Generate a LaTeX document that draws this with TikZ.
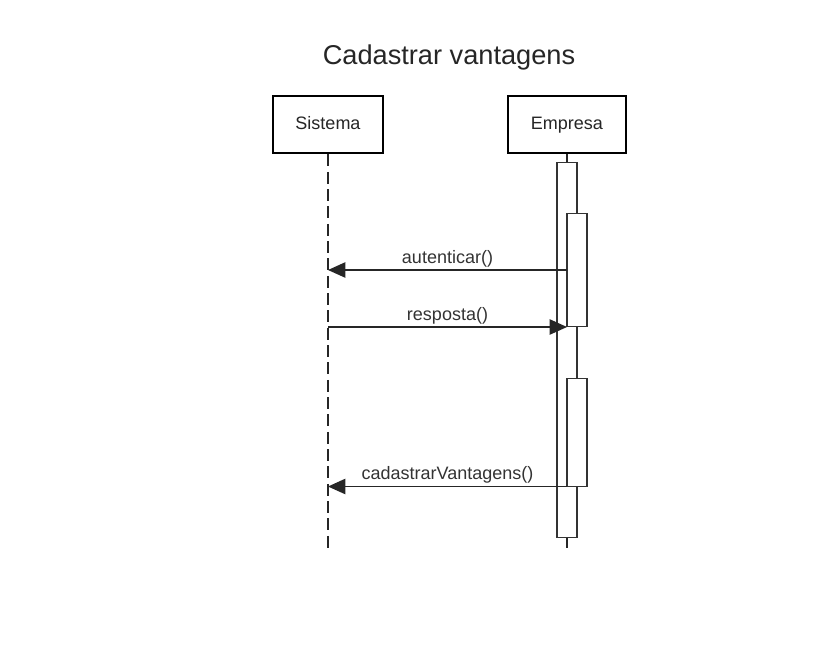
\documentclass[tikz,border=0pt]{standalone}
\usepackage{fontspec}
\setmainfont{Liberation Sans}
\usetikzlibrary{arrows.meta}
\begin{document}
\begin{tikzpicture}[x=0.75pt,y=-0.75pt,
  actor/.style={draw=black,line width=2.2pt,fill=white,minimum width=82.5pt,minimum height=42.75pt,inner sep=0pt,text height=9.5pt,text depth=2.5pt,font=\fontsize{13.5}{15}\selectfont,text=black!85},
  act/.style={draw=black!80,line width=1pt,fill=white},
  life/.style={draw=black!85,line width=1.1pt},
  msg/.style={draw=black!85,line width=1pt,-{Triangle[length=13pt,width=11.5pt]}},
  lbl/.style={font=\fontsize{13.5}{15}\selectfont,text=black!80,inner sep=0pt,text height=9.5pt,text depth=2.5pt,anchor=south,yshift=2pt}]
\useasboundingbox (0,0) rectangle (840,672);
\node[font=\fontsize{20.4}{23}\selectfont,text=black!85] (title) at (449,57) {Cadastrar vantagens};
\node[actor] (sis) at (328,124.5) {Sistema};
\node[actor,minimum width=88.5pt] (emp) at (567,124.5) {Empresa};
\coordinate (sisend) at (328,548);
\coordinate (empend) at (567,548);
\draw[life,dash pattern=on 9pt off 4pt] (sis.south) -- (sisend);
\draw[life] (emp.south) -- (empend);
\node[act,minimum width=15pt,minimum height=281.25pt,inner sep=0pt] (a0) at (567,349.75) {};
\node[act,minimum width=15pt,minimum height=84.75pt,inner sep=0pt] (a1) at (577,269.75) {};
\node[act,minimum width=15pt,minimum height=81pt,inner sep=0pt] (a2) at (577,432.3) {};
\coordinate (m1s) at (567,270);
\coordinate (m1e) at (328,270);
\coordinate (m2s) at (328,327);
\coordinate (m2e) at (567,327);
\coordinate (m3s) at (567,486.5);
\coordinate (m3e) at (328,486.5);
\draw[msg] (m1s) -- node[lbl,pos=0.5] (l1) {autenticar()} (m1e);
\draw[msg] (m2s) -- node[lbl,pos=0.5] (l2) {resposta()} (m2e);
\draw[msg] (m3s) -- node[lbl,pos=0.5] (l3) {cadastrarVantagens()} (m3e);
\end{tikzpicture}
\end{document}
